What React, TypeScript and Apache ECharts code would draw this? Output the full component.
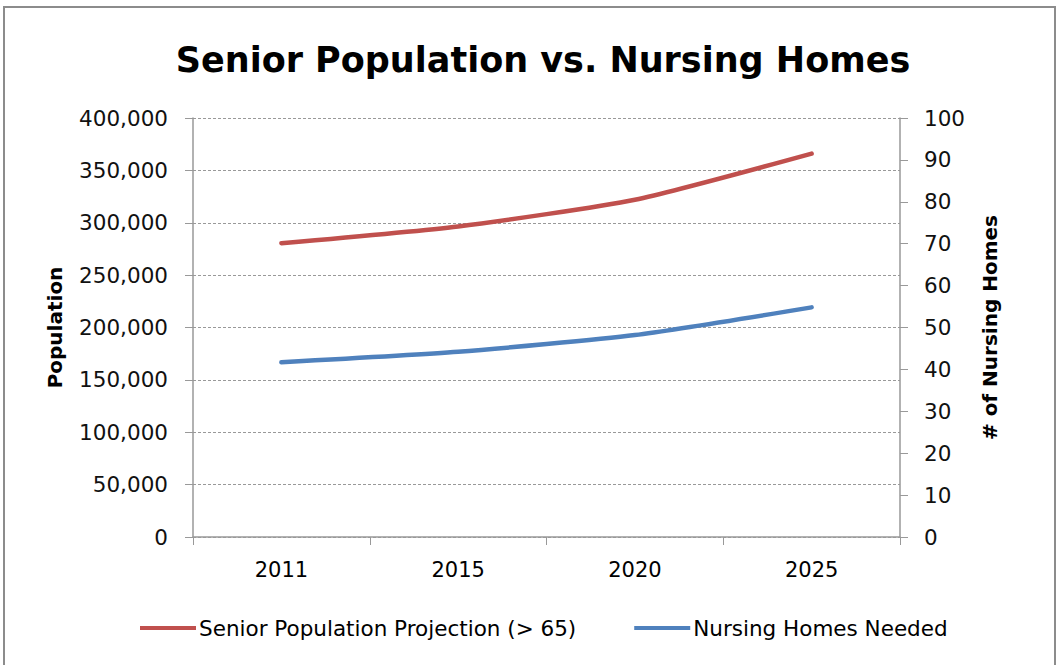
import React, { useEffect, useRef } from "react";
import * as echarts from "echarts";

const years = ["2011", "2015", "2020", "2025"];
const seniorPopulation = [280500, 296500, 322000, 366000];
const nursingHomes = [41.7, 44.2, 48.2, 54.8];
const seriesNames = ["Senior Population Projection (> 65)", "Nursing Homes Needed"];
const titleText = "Senior Population vs. Nursing Homes";

const FONT = "'DejaVu Sans', sans-serif";

export default function App() {
  const ref = useRef<HTMLDivElement>(null);
  useEffect(() => {
    const chart = echarts.init(ref.current!, null, { renderer: "svg" });
    chart.setOption({
      animation: false,
      backgroundColor: "#ffffff",
      textStyle: { fontFamily: FONT },
      title: {
        text: titleText,
        left: 538,
        textAlign: "center",
        top: 37,
        textStyle: { fontFamily: FONT, fontWeight: "bold", fontSize: 35, color: "#000" },
      },
      graphic: [
        {
          type: "rect",
          shape: { x: 4, y: 7, width: 1051, height: 700 },
          style: { fill: "none", stroke: "#8c8c8c", lineWidth: 2 },
          silent: true,
        },
      ],
      legend: {
        bottom: 21,
        left: 135,
        itemWidth: 56,
        itemHeight: 4,
        itemGap: 58,
        icon: "rect",
        textStyle: { fontFamily: FONT, fontSize: 21.5, color: "#000", padding: [0, 0, 0, -2] },
        data: seriesNames,
      },
      grid: { left: 193, right: 160, top: 118, bottom: 128 },
      xAxis: {
        type: "category",
        data: years,
        boundaryGap: true,
        axisLine: { lineStyle: { color: "#999", width: 1.5 } },
        axisTick: { show: true, length: 8, lineStyle: { color: "#999" } },
        axisLabel: { fontFamily: FONT, fontSize: 21, color: "#000", margin: 22 },
      },
      yAxis: [
        {
          type: "value",
          min: 0,
          max: 400000,
          interval: 50000,
          name: "Population",
          nameLocation: "middle",
          nameGap: 128,
          nameTextStyle: { fontFamily: FONT, fontWeight: "bold", fontSize: 20, color: "#000" },
          axisLine: { show: true, lineStyle: { color: "#999", width: 1.5 } },
          axisTick: { show: true, length: 8, lineStyle: { color: "#999" } },
          axisLabel: {
            fontFamily: FONT,
            fontSize: 21.5,
            color: "#111",
            margin: 25,
            formatter: (v: number) => v.toLocaleString("en-US"),
          },
          splitLine: { show: true, lineStyle: { color: "#999", type: [3, 2], width: 1 } },
        },
        {
          type: "value",
          min: 0,
          max: 100,
          interval: 10,
          name: "# of Nursing Homes",
          nameLocation: "middle",
          nameGap: 80,
          nameRotate: 90,
          nameTextStyle: { fontFamily: FONT, fontWeight: "bold", fontSize: 20, color: "#000" },
          axisLine: { show: true, lineStyle: { color: "#999", width: 1.5 } },
          axisTick: { show: true, length: 8, lineStyle: { color: "#999" } },
          axisLabel: { fontFamily: FONT, fontSize: 21.5, color: "#111", margin: 24 },
          splitLine: { show: false },
        },
      ],
      series: [
        {
          name: seriesNames[0],
          type: "line",
          yAxisIndex: 0,
          data: seniorPopulation,
          smooth: 0.2,
          symbol: "none",
          lineStyle: { color: "#c0504d", width: 4.5, cap: "round" },
          itemStyle: { color: "#c0504d" },
        },
        {
          name: seriesNames[1],
          type: "line",
          yAxisIndex: 1,
          data: nursingHomes,
          smooth: 0.2,
          symbol: "none",
          lineStyle: { color: "#4f81bd", width: 4.5, cap: "round" },
          itemStyle: { color: "#4f81bd" },
        },
      ],
    });
    return () => chart.dispose();
  }, []);
  return (
    <div
      ref={ref}
      style={{ position: "fixed", left: 0, top: 0, width: 1060, height: 665 }}
    />
  );
}
